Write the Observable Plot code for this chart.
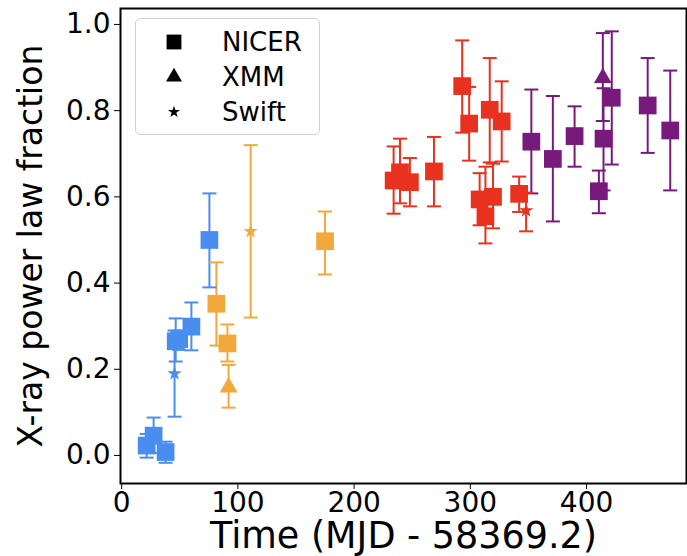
<!DOCTYPE html>
<html>
<head>
<meta charset="utf-8">
<script src="https://cdn.jsdelivr.net/npm/d3@7"></script>
<script src="https://cdn.jsdelivr.net/npm/@observablehq/plot@0.6"></script>
<style>
  html, body { margin: 0; padding: 0; background: #fff; }
  #wrap { position: relative; width: 687px; height: 556px; font-family: "DejaVu Sans", sans-serif; }
  #legend { position: absolute; left: 135px; top: 18px; width: 185px; height: 117px;
    border: 1px solid #d0d0d0; border-radius: 5px; background: rgba(255,255,255,0.8); box-sizing: border-box; }
  .row { position: absolute; left: 0; height: 30px; width: 180px; }
  .row svg { position: absolute; left: 24px; top: 0; }
  .row span { position: absolute; left: 86px; top: 0; line-height: 30px; font-size: 26px; color: #000; white-space: nowrap; }
</style>
</head>
<body>
<div id="wrap"></div>
<script>
// ---- data ----
const time   = [21.5, 27.5, 37.8, 46.5, 49.5, 60, 75.5, 45.5,
                81.5, 91, 175, 92, 111,
                234, 239.5, 248, 268.7, 293, 299, 308, 313, 319.5, 316.7, 327, 342, 348,
                352.5, 371, 389.7, 410.6, 414.6, 421.7, 452.6, 472, 414];
const frac   = [0.023, 0.046, 0.008, 0.265, 0.27, 0.299, 0.5, 0.19,
                0.352, 0.26, 0.497, 0.158, 0.52,
                0.638, 0.657, 0.634, 0.659, 0.857, 0.77, 0.594, 0.555, 0.6, 0.802, 0.775, 0.607, 0.568,
                0.728, 0.688, 0.741, 0.613, 0.735, 0.83, 0.812, 0.754, 0.876];
const fracLo = [-0.005, 0.006, -0.017, 0.218, 0.245, 0.244, 0.39, 0.09,
                0.255, 0.218, 0.42, 0.111, 0.32,
                0.561, 0.585, 0.578, 0.578, 0.749, 0.684, 0.534, 0.492, 0.527, 0.68, 0.682, 0.565, 0.52,
                0.608, 0.543, 0.67, 0.562, 0.615, 0.675, 0.702, 0.615, 0.776];
const fracHi = [0.05, 0.088, 0.032, 0.318, 0.29, 0.355, 0.608, 0.29,
                0.448, 0.304, 0.566, 0.21, 0.72,
                0.717, 0.735, 0.69, 0.739, 0.963, 0.855, 0.655, 0.67, 0.677, 0.922, 0.868, 0.647, 0.61,
                0.849, 0.834, 0.81, 0.661, 0.852, 0.984, 0.922, 0.893, 0.98];
const instrument = ["NICER","NICER","NICER","NICER","NICER","NICER","NICER","Swift",
                    "NICER","NICER","NICER","XMM","Swift",
                    "NICER","NICER","NICER","NICER","NICER","NICER","NICER","NICER","NICER","NICER","NICER","NICER","Swift",
                    "NICER","NICER","NICER","NICER","NICER","NICER","NICER","NICER","XMM"];
const phase = ["A","A","A","A","A","A","A","A",
               "B","B","B","B","B",
               "C","C","C","C","C","C","C","C","C","C","C","C","C",
               "D","D","D","D","D","D","D","D","D"];
const phases = ["A","B","C","D"];
const phaseColors = ["#4a8df0", "#f3a83c", "#e8321f", "#781a7c"];
const instruments = ["NICER","XMM","Swift"];
const xTicks = [0, 100, 200, 300, 400];
const yTicks = [0, 0.2, 0.4, 0.6, 0.8, 1.0];

const rows = time.map((t, i) => ({t, f: frac[i], lo: fracLo[i], hi: fracHi[i], inst: instrument[i], ph: phase[i]}));

const capSymbol = { draw(ctx, size) { const w = 7; ctx.moveTo(-w, 0); ctx.lineTo(w, 0); } };
const colorOf = d => phaseColors[phases.indexOf(d.ph)];
const symOf = {NICER: "square", XMM: "triangle", Swift: "star"};
const rOf = {NICER: 10, XMM: 6.6, Swift: 4.5};

const plot = Plot.plot({
  width: 687, height: 556,
  marginLeft: 120, marginTop: 8, marginBottom: 73, marginRight: 1,
  style: { fontFamily: "DejaVu Sans, sans-serif", background: "#fff", overflow: "visible", fontSize: "28px" },
  x: { domain: [-1, 486], ticks: xTicks, tickFormat: d => String(d) },
  y: { domain: [-0.065, 1.037], ticks: yTicks, tickFormat: d3.format(".1f") },
  marks: [
    Plot.ruleX(rows, { x: "t", y1: "lo", y2: "hi", stroke: colorOf, strokeWidth: 2 }),
    Plot.dot(rows, { x: "t", y: "lo", symbol: capSymbol, stroke: colorOf, fill: "none", strokeWidth: 2, r: 5 }),
    Plot.dot(rows, { x: "t", y: "hi", symbol: capSymbol, stroke: colorOf, fill: "none", strokeWidth: 2, r: 5 }),
    ...instruments.map(inst => Plot.dot(rows.filter(d => d.inst === inst), {
      x: "t", y: "f", symbol: symOf[inst], r: rOf[inst], fill: colorOf, stroke: "none"
    })),
    Plot.frame({ stroke: "#000", strokeWidth: 2 }),
    Plot.axisX({ ticks: xTicks, tickFormat: d => String(d), tickSize: 6, tickPadding: 3, fontSize: 28, label: null, color: "#000" }),
    Plot.axisY({ ticks: yTicks, tickFormat: d3.format(".1f"), tickSize: 6, tickPadding: 4, fontSize: 28, label: null, color: "#000" }),
    Plot.text(["Time (MJD - 58369.2)"], { frameAnchor: "bottom", lineAnchor: "middle", dy: 53, fontSize: 36.5, fill: "#000" }),
    Plot.text(["X-ray power law fraction"], { frameAnchor: "left", textAnchor: "middle", lineAnchor: "middle", rotate: -90, dx: -89, fontSize: 33, fill: "#000" })
  ]
});

const wrap = document.getElementById("wrap");
wrap.appendChild(plot);

// legend overlay
const legend = document.createElement("div");
legend.id = "legend";
const legendSym = {NICER: d3.symbolSquare, XMM: d3.symbolTriangle, Swift: d3.symbolStar};
const legendSize = {NICER: 220, XMM: 110, Swift: 45};
instruments.forEach((inst, i) => {
  const row = document.createElement("div");
  row.className = "row";
  row.style.top = (8 + i * 35) + "px";
  const path = d3.symbol(legendSym[inst], legendSize[inst])();
  row.innerHTML = `<svg width="28" height="30" viewBox="-14 -15 28 30"><path d="${path}" fill="#000"/></svg><span>${inst}</span>`;
  legend.appendChild(row);
});
wrap.appendChild(legend);
</script>
</body>
</html>
